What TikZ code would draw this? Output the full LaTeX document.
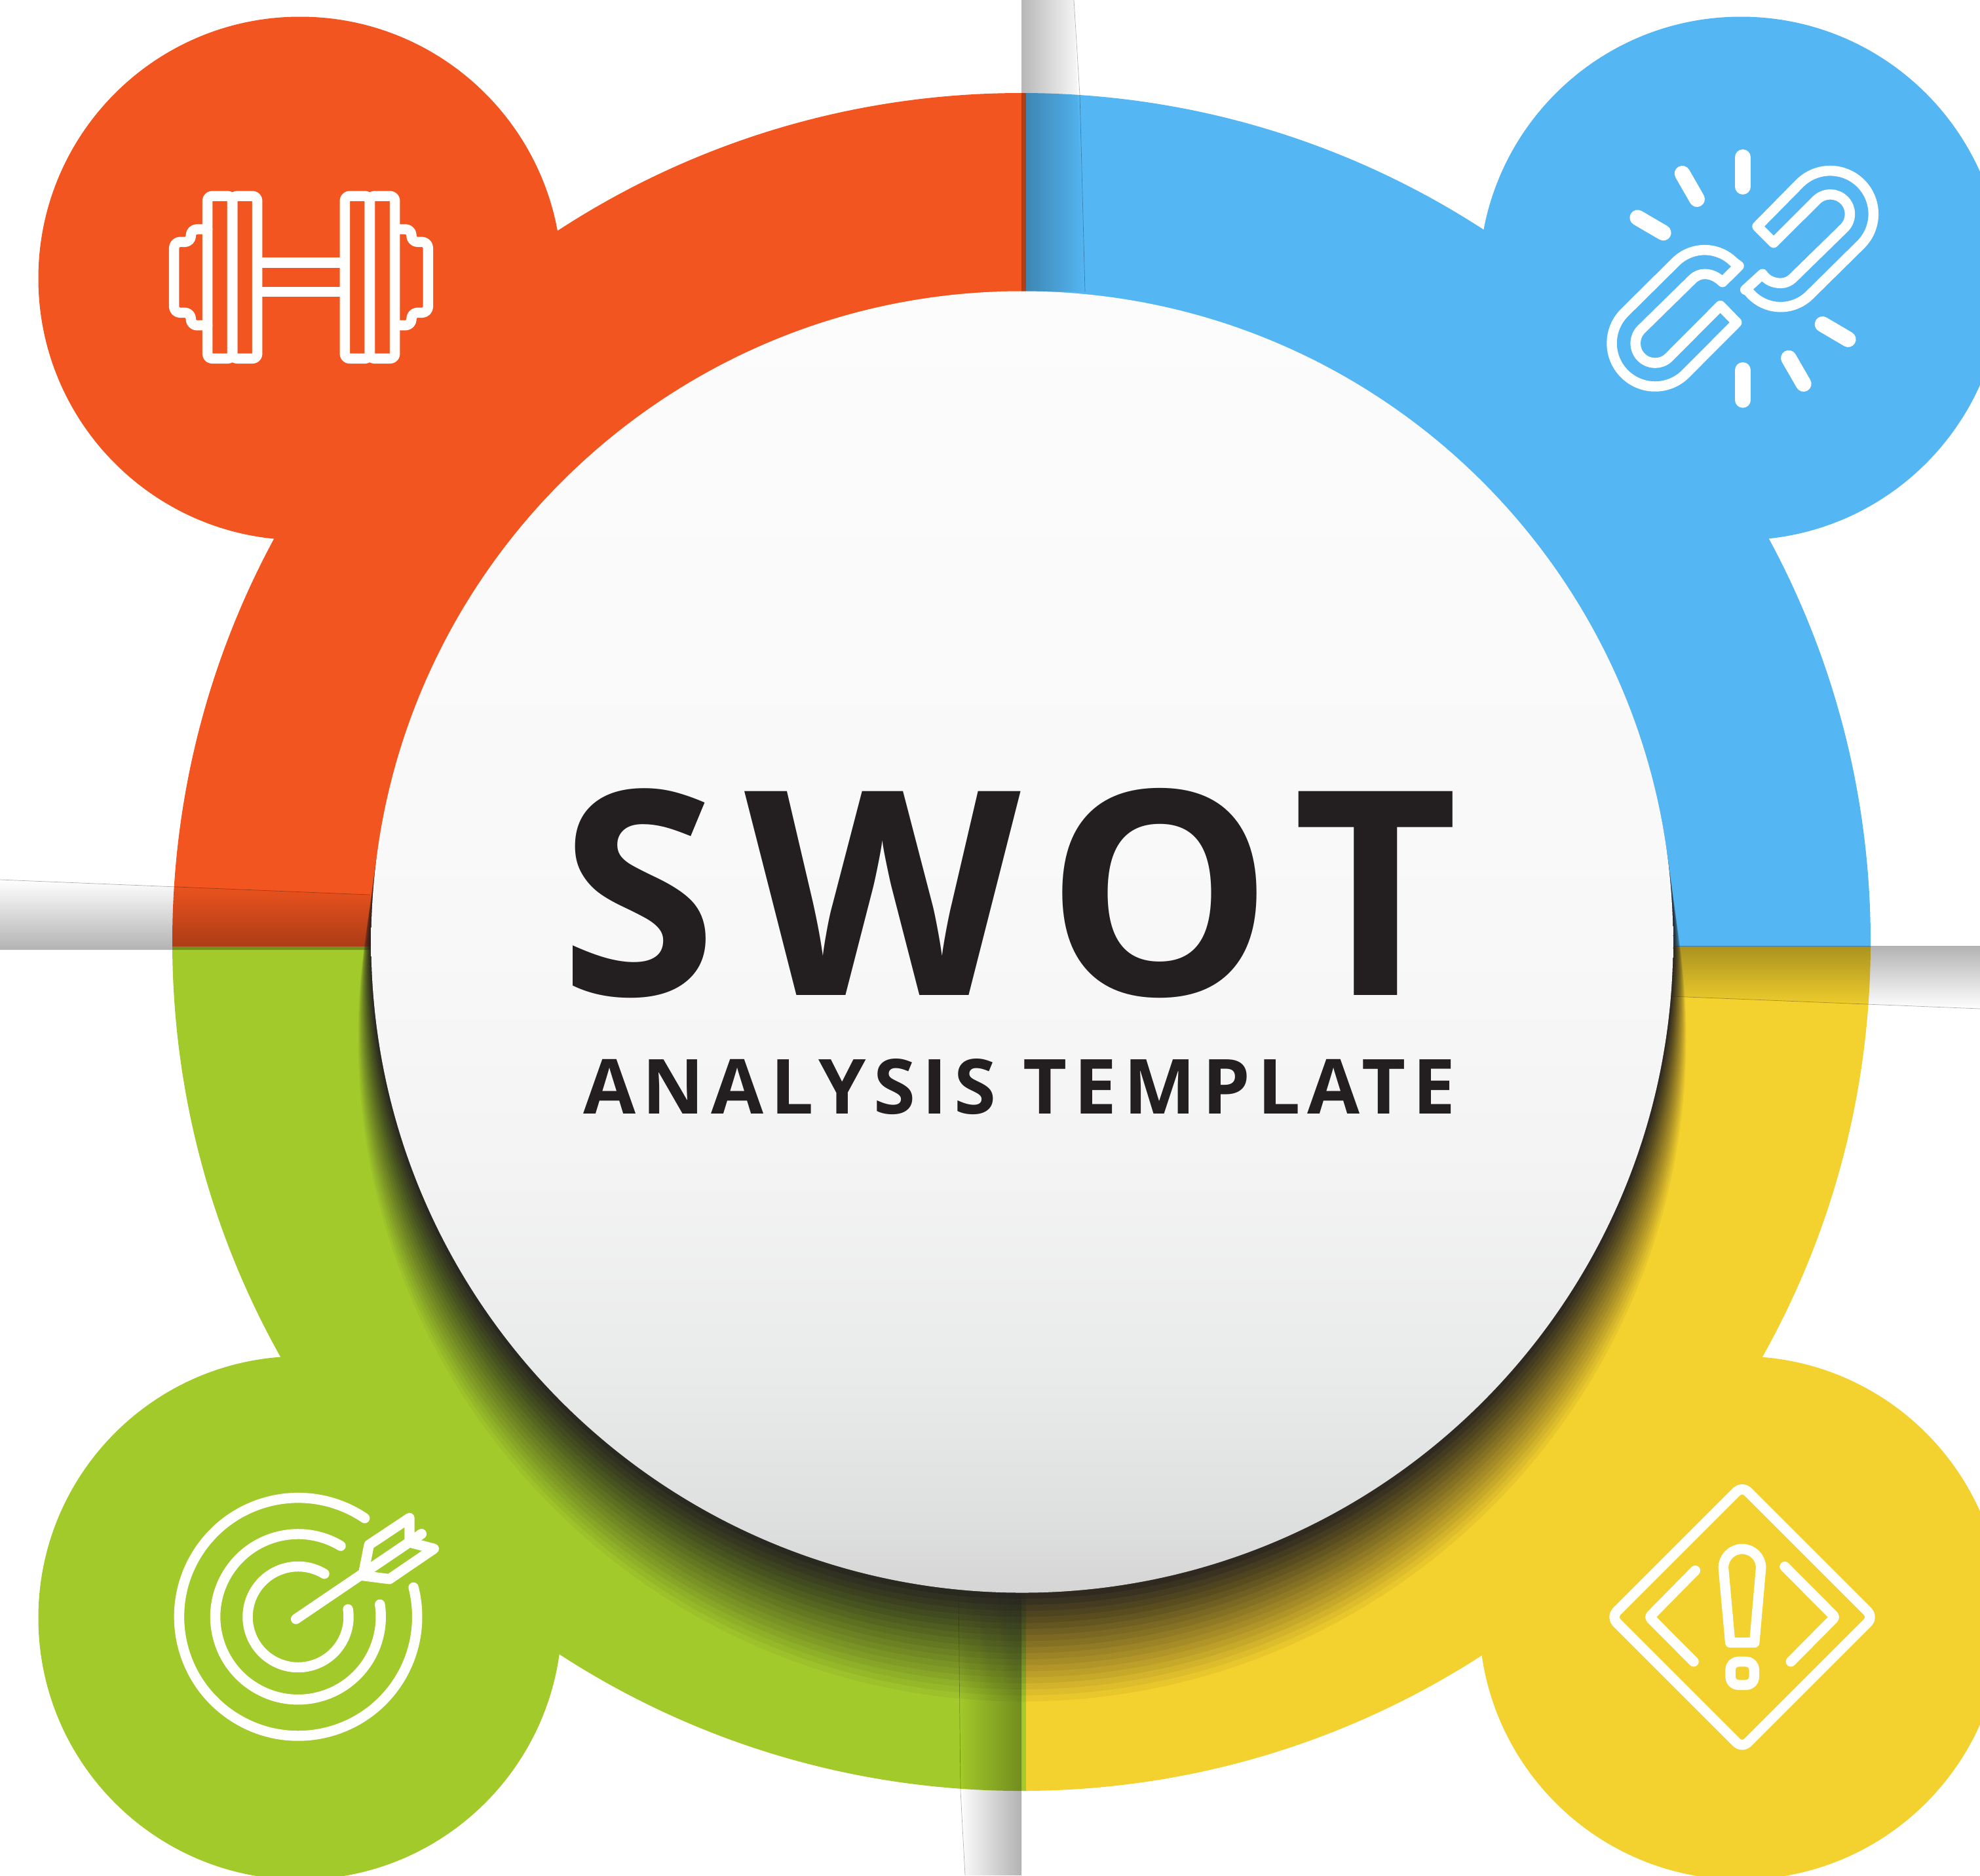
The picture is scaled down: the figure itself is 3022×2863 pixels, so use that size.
\documentclass[tikz,border=0pt]{standalone}
\usepackage{fontspec}
\setmainfont{Open Sans}
\newfontfamily\swotfont[LetterSpace=9.7]{Open Sans}
\newfontfamily\subfont[LetterSpace=9.3]{Open Sans}
\definecolor{orangeseg}{HTML}{F2551F}
\definecolor{blueseg}{HTML}{54B6F3}
\definecolor{greenseg}{HTML}{A3CA2B}
\definecolor{yellowseg}{HTML}{F3D12E}
\definecolor{inkdark}{HTML}{231F20}
\pgfdeclareverticalshading{discshade}{100bp}{%
  rgb(0bp)=(.835,.835,.835);
  rgb(25bp)=(.835,.835,.835);
  rgb(28.3bp)=(.875,.882,.878);
  rgb(33.3bp)=(.914,.918,.918);
  rgb(40.8bp)=(.953,.953,.953);
  rgb(50bp)=(.973,.973,.973);
  rgb(75bp)=(.988,.988,.988);
  rgb(100bp)=(.988,.988,.988)}

\begin{document}
\begin{tikzpicture} [
  x=0.01cm,
  y=-0.01cm,
  node distance=84pt,
  icon line/.style={draw=white,line width=4.4pt,line join=round,line cap=round},
  spark line/.style={draw=white,line width=6.8pt,line cap=round},
  bar shade/.style={blend mode=multiply},
  seam line/.style={draw=black!30,line width=0.2pt,blend mode=multiply},
  title node/.style={inner sep=0pt,text=inkdark,font=\swotfont\bfseries\fontsize{124}{124}\selectfont},
  sub node/.style={inner sep=0pt,text=inkdark,font=\subfont\bfseries\fontsize{33}{33}\selectfont},
  ]

  \useasboundingbox (0,0) rectangle (3022,2863);
  \clip (0,0) rectangle (3022,2863);

  \foreach \segcol/\xa/\ya/\xb/\yb/\cx/\cy in {
    orangeseg/0/0/1566/1445/458/425,
    blueseg/1566/0/3022/1445/2657/425,
    greenseg/0/1445/1566/2863/458/2470,
    yellowseg/1566/1445/3022/2863/2657/2470} {
    \begin{scope}
      \clip (\xa,\ya) rectangle (\xb,\yb);
      \fill[\segcol] (1559,1438) circle (1296);
    \end{scope}
    \fill[\segcol] (\cx,\cy) circle (399.5);
  }

  \shade[bar shade,left color=black!28,right color=white]
    (1559,0) -- (1639,0) -- (1656,445) -- (1559,445) -- cycle;
  \shade[bar shade,right color=black!30,left color=white]
    (1463,2431) -- (1559,2431) -- (1559,2863) -- (1473,2863) -- cycle;
  \shade[bar shade,bottom color=black!30,middle color=black!9,top color=white]
    (0,1343) -- (565,1366) -- (565,1450) -- (0,1450) -- cycle;
  \shade[bar shade,top color=black!30,middle color=black!8,bottom color=white]
    (2550,1444) -- (3022,1444) -- (3022,1540) -- (2550,1521) -- cycle;

  \draw[seam line] (1639,0) -- (1648,145) -- (1656,445);
  \draw[seam line] (1463,2431) -- (1466,2734) -- (1473,2863);
  \draw[seam line] (0,1343) -- (565,1366);
  \draw[seam line] (2550,1521) -- (3022,1540);

  \foreach \k in {18,...,1} {
    \pgfmathsetmacro{\rk}{993.5+20*\k/18}
    \pgfmathsetmacro{\dk}{146*\k/18}
    \pgfmathsetmacro{\aprev}{.93*(18-\k)/18}
    \pgfmathsetmacro{\acur}{.93*(19-\k)/18}
    \pgfmathsetmacro{\pk}{(\acur-\aprev)/(1-\aprev)}
    \fill[inkdark,opacity=\pk] (1560,1438+\dk) circle (\rk);
  }
  \shade[shading=discshade] (1560,1438) circle (993.5);

  \node[title node] (swot) at (1540,1364) {SWOT};
  \node[sub node, below of=swot, xshift=4.5pt] (analysis) {ANALYSIS TEMPLATE};

  \begin{scope}[shift={(200,250)},scale=1/3,icon line,rounded corners=2pt]
    \draw (350,148) rectangle (464,892);
    \draw (464,148) rectangle (578,892);
    \draw (979,148) rectangle (1093,892);
    \draw (1093,148) rectangle (1208,892);
    \draw (578,453) -- (979,453);
    \draw (578,587) -- (979,587);
    \draw[rounded corners=2.6pt] (350,300) -- (274,300) -- (274,358) -- (197,358) -- (197,682)
      -- (274,682) -- (274,740) -- (350,740);
    \draw[rounded corners=2.6pt] (1208,300) -- (1284,300) -- (1284,358) -- (1360,358) -- (1360,682)
      -- (1284,682) -- (1284,740) -- (1208,740);
  \end{scope}

  \begin{scope}[shift={(2400,200)},scale=1/3,icon line]
    \draw (762,618) -- (738,600) arc[start angle=-45,end angle=-135,radius=188]
      -- (238,832) arc[start angle=-135,end angle=-315,radius=198]
      -- (752,877) -- (677,800)
      -- (442,1036) arc[start angle=45,end angle=225,radius=90]
      -- (550,678) arc[start angle=225,end angle=270,radius=78]
      .. controls (635,655) and (662,668) .. (687,692) -- cycle;
    \draw (846,437) -- (1040,240) arc[start angle=-135,end angle=45,radius=198]
      -- (1086,751) arc[start angle=45,end angle=146,radius=188]
      -- (791,727) -- (870,655) .. controls (888,683) and (920,697) .. (953,697)
      arc[start angle=90,end angle=45,radius=79]
      -- (1244,444) arc[start angle=45,end angle=-135,radius=90]
      -- (921,512) -- cycle;
    \foreach \xa/\ya/\xb/\yb in {780/120/780/255, 503/195/570/312, 298/397/416/466,
      1145/885/1262/954, 990/1040/1058/1158, 780/1095/780/1232}
      \draw[spark line] (\xa,\ya) -- (\xb,\yb);
  \end{scope}

  \begin{scope}[shift={(230,2240)},scale=1/3,icon line]
    \draw (980,233) arc[start angle=-56,end angle=-374.3,radius=545];
    \draw (870,360) arc[start angle=-59,end angle=-368.6,radius=379];
    \draw (795,488) arc[start angle=-58.7,end angle=-368.7,radius=231];
    \draw (665,695) -- (1240,305);
    \draw (975,480) -- (1000,355) -- (1185,232) -- (1185,340);
    \draw (960,495) -- (1093,512) -- (1297,373) -- (1190,345);
  \end{scope}

  \begin{scope}[shift={(2430,2240)},scale=1/3,icon line]
    \draw[rounded corners=3.4pt] (687,86) -- (1287,686) -- (687,1286) -- (87,686) -- cycle;
    \draw[rounded corners=1pt] (472,473) -- (262,686) -- (465,890);
    \draw[rounded corners=1pt] (882,455) -- (1112,686) -- (910,890);
    \draw (632,803) -- (601,460) arc[start angle=180,end angle=360,radius=86]
      -- (743,803) -- cycle;
    \draw[rounded corners=3.5pt] (633,890) rectangle (742,997);
  \end{scope}
\end{tikzpicture}
\end{document}
